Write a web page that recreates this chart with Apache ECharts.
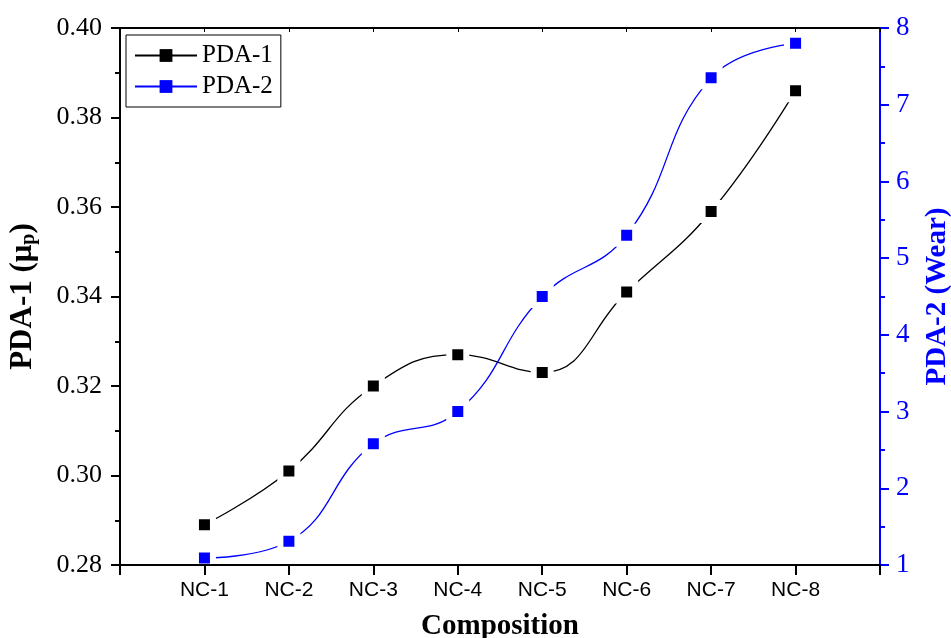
<!DOCTYPE html>
<html>
<head>
<meta charset="utf-8">
<script src="https://cdn.jsdelivr.net/npm/echarts@6/dist/echarts.min.js"></script>
<style>
  html, body { margin: 0; padding: 0; background: #fff; }
  #chart { width: 951px; height: 638px; }
</style>
</head>
<body>
<div id="chart"></div>
<script>
const categories = ["NC-1", "NC-2", "NC-3", "NC-4", "NC-5", "NC-6", "NC-7", "NC-8"];
const pda1 = [0.289, 0.301, 0.320, 0.327, 0.323, 0.341, 0.359, 0.386];
const pda2 = [1.09, 1.31, 2.58, 3.0, 4.5, 5.3, 7.35, 7.8];

const serif = "Liberation Serif";
const sans = "Liberation Sans";

// x positions 1..8, leave a full band each side like the original
const toPoints = (vals) => vals.map((v, i) => [i + 1, v]);

const chart = echarts.init(document.getElementById("chart"));

const options = {
  animation: false,
  backgroundColor: "#fff",
  grid: { left: 120, right: 71, top: 28, bottom: 73, containLabel: false, outerBoundsMode: "none" },
  legend: {
    orient: "vertical",
    left: 126,
    top: 35,
    padding: [8, 8, 8, 8],
    itemGap: 6,
    itemWidth: 62,
    itemHeight: 16,
    borderColor: "#000",
    borderWidth: 1,
    borderRadius: 0,
    itemStyle: { borderWidth: 0 },
    textStyle: { fontFamily: serif, fontSize: 25, color: "#000" },
    data: ["PDA-1", "PDA-2"],
  },
  xAxis: [
    {
      type: "value",
      min: 0,
      max: 9,
      interval: 1,
      z: 5,
      splitLine: { show: false },
      axisLine: { onZero: false, lineStyle: { color: "#000", width: 2 } },
      axisTick: { length: 10, lineStyle: { color: "#000", width: 2 } },
      axisLabel: {
        fontFamily: sans,
        fontSize: 21,
        color: "#000",
        margin: 15,
        formatter: (v) => categories[v - 1] || "",
      },
      name: "Composition",
      nameLocation: "middle",
      nameGap: 47,
      nameTextStyle: { fontFamily: serif, fontSize: 29, fontWeight: "bold", color: "#000" },
    },
    {
      type: "value",
      position: "top",
      min: 0,
      max: 9,
      interval: 1,
      z: 5,
      splitLine: { show: false },
      axisLine: { onZero: false, lineStyle: { color: "#000", width: 2 } },
      axisTick: { inside: true, length: 4, lineStyle: { color: "#000", width: 1 } },
      axisLabel: { show: false },
    },
  ],
  yAxis: [
    {
      type: "value",
      min: 0.28,
      max: 0.40,
      interval: 0.02,
      z: 5,
      splitLine: { show: false },
      axisLine: { show: true, onZero: false, lineStyle: { color: "#000", width: 2 } },
      axisTick: { length: 9, lineStyle: { color: "#000", width: 2 } },
      minorTick: { show: true, splitNumber: 2, length: 5, lineStyle: { color: "#000", width: 2 } },
      axisLabel: {
        fontFamily: serif,
        fontSize: 26,
        color: "#000",
        margin: 18,
        formatter: (v) => v.toFixed(2),
      },
      name: "{a|PDA-1 (μ}{s|p}{a|)}",
      nameLocation: "middle",
      nameGap: 81,
      nameTextStyle: {
        rich: {
          a: { fontFamily: serif, fontSize: 31, fontWeight: "bold", color: "#000" },
          s: { fontFamily: serif, fontSize: 20, fontWeight: "bold", color: "#000", padding: [13, 0, 0, 0] },
        },
      },
    },
    {
      type: "value",
      position: "right",
      min: 1,
      max: 8,
      interval: 1,
      z: 5,
      splitLine: { show: false },
      axisLine: { show: true, onZero: false, lineStyle: { color: "#0000ff", width: 2 } },
      axisTick: { length: 9, lineStyle: { color: "#0000ff", width: 2 } },
      minorTick: { show: true, splitNumber: 2, length: 5, lineStyle: { color: "#0000ff", width: 2 } },
      axisLabel: { fontFamily: serif, fontSize: 27, color: "#0000ff", margin: 16 },
      name: "PDA-2 (Wear)",
      nameLocation: "middle",
      nameGap: 43,
      nameRotate: 90,
      nameTextStyle: { fontFamily: serif, fontSize: 29, fontWeight: "bold", color: "#0000ff" },
    },
  ],
  series: [
    {
      name: "PDA-1",
      type: "line",
      yAxisIndex: 0,
      smooth: 0.45,
      data: toPoints(pda1),
      symbol: "rect",
      symbolSize: 17,
      lineStyle: { color: "#000", width: 1.3 },
      itemStyle: { color: "#000", borderColor: "#fff", borderWidth: 6 },
    },
    {
      name: "PDA-2",
      type: "line",
      yAxisIndex: 1,
      smooth: 0.45,
      data: toPoints(pda2),
      symbol: "rect",
      symbolSize: 17,
      lineStyle: { color: "#0000ff", width: 1.3 },
      itemStyle: { color: "#0000ff", borderColor: "#fff", borderWidth: 6 },
    },
  ],
};

chart.setOption(options);
</script>
</body>
</html>
